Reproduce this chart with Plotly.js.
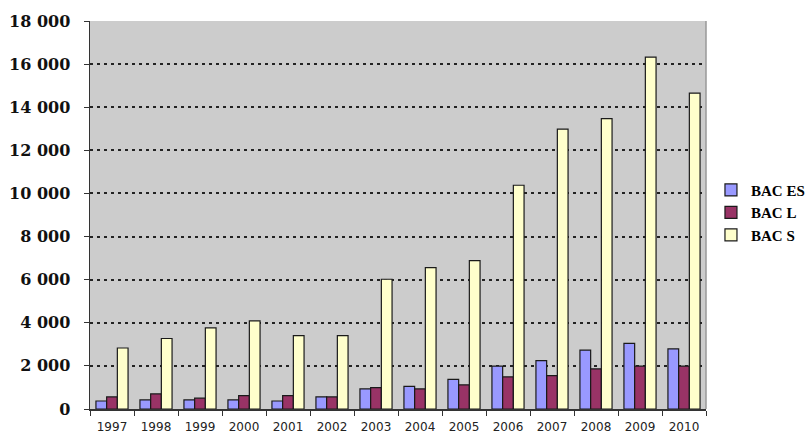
<!DOCTYPE html>
<html>
<head>
<meta charset="utf-8">
<script src="https://cdn.plot.ly/plotly-3.0.1.min.js"></script>
<style>
html,body{margin:0;padding:0;background:#fff;}
#chart{width:807px;height:434px;}
</style>
</head>
<body>
<div id="chart"></div>
<script>
const years = ['1997','1998','1999','2000','2001','2002','2003','2004','2005','2006','2007','2008','2009','2010'];
const bacES = [370, 420, 420, 420, 370, 560, 930, 1050, 1370, 1990, 2240, 2730, 3040, 2790];
const bacL  = [560, 700, 500, 620, 620, 560, 990, 930, 1120, 1490, 1550, 1860, 1990, 1990];
const bacS  = [2830, 3270, 3760, 4090, 3400, 3400, 6020, 6560, 6880, 10380, 12980, 13470, 16320, 14650];
const seriesNames = ['BAC ES', 'BAC L', 'BAC S'];
const yTicks = [0, 2000, 4000, 6000, 8000, 10000, 12000, 14000, 16000, 18000];

const colors = ['#9999ff', '#993366', '#ffffcc'];
const seriesData = [bacES, bacL, bacS];

const traces = seriesData.map((vals, i) => ({
  type: 'bar',
  name: seriesNames[i],
  x: years,
  y: vals,
  marker: {color: colors[i], line: {color: '#1a1a1a', width: 1.2}},
  hoverinfo: 'x+y+name'
}));

const layout = {
  width: 807,
  height: 434,
  margin: {l: 90, r: 101, t: 21, b: 25, pad: 0, autoexpand: false},
  paper_bgcolor: '#ffffff',
  plot_bgcolor: '#cccccc',
  barmode: 'group',
  bargap: 0.27,
  bargroupgap: 0,
  separators: '. ',
  showlegend: true,
  legend: {
    xref: 'container', yref: 'container',
    x: 0.881, xanchor: 'left',
    y: 0.51, yanchor: 'middle',
    font: {family: 'Liberation Serif', size: 15, color: '#000', weight: 'bold'},
    tracegroupgap: 0,
    itemwidth: 30,
    borderwidth: 0,
    bgcolor: 'rgba(0,0,0,0)'
  },
  xaxis: {
    type: 'category',
    tickson: 'boundaries',
    ticks: 'outside',
    ticklen: 5,
    tickcolor: '#333',
    showline: true,
    linecolor: '#333',
    linewidth: 1.5,
    showgrid: false,
    tickangle: 0,
    automargin: false,
    tickfont: {family: 'DejaVu Sans', size: 12, color: '#222'},
    ticklabelstandoff: 6
  },
  yaxis: {
    range: [0, 18000],
    tickvals: yTicks,
    tickformat: ',d',
    ticks: 'outside',
    ticklen: 5,
    tickcolor: '#333',
    showline: true,
    linecolor: '#333',
    linewidth: 1.5,
    showgrid: true,
    gridcolor: '#222',
    gridwidth: 2,
    griddash: '3px,4px',
    zeroline: false,
    automargin: false,
    tickfont: {family: 'DejaVu Serif', size: 16, color: '#111', weight: 'bold'},
    ticklabelstandoff: 10
  },
  shapes: [{
    type: 'line', xref: 'paper', yref: 'paper',
    x0: 1, x1: 1, y0: 0, y1: 1,
    line: {color: '#999', width: 1.5}
  }],
  font: {family: 'DejaVu Serif', color: '#000'}
};

Plotly.newPlot('chart', traces, layout, {displayModeBar: false, staticPlot: true}).then(() => {
  document.querySelectorAll('.legendtext').forEach(t => t.style.fontWeight = 'bold');
});
</script>
</body>
</html>
